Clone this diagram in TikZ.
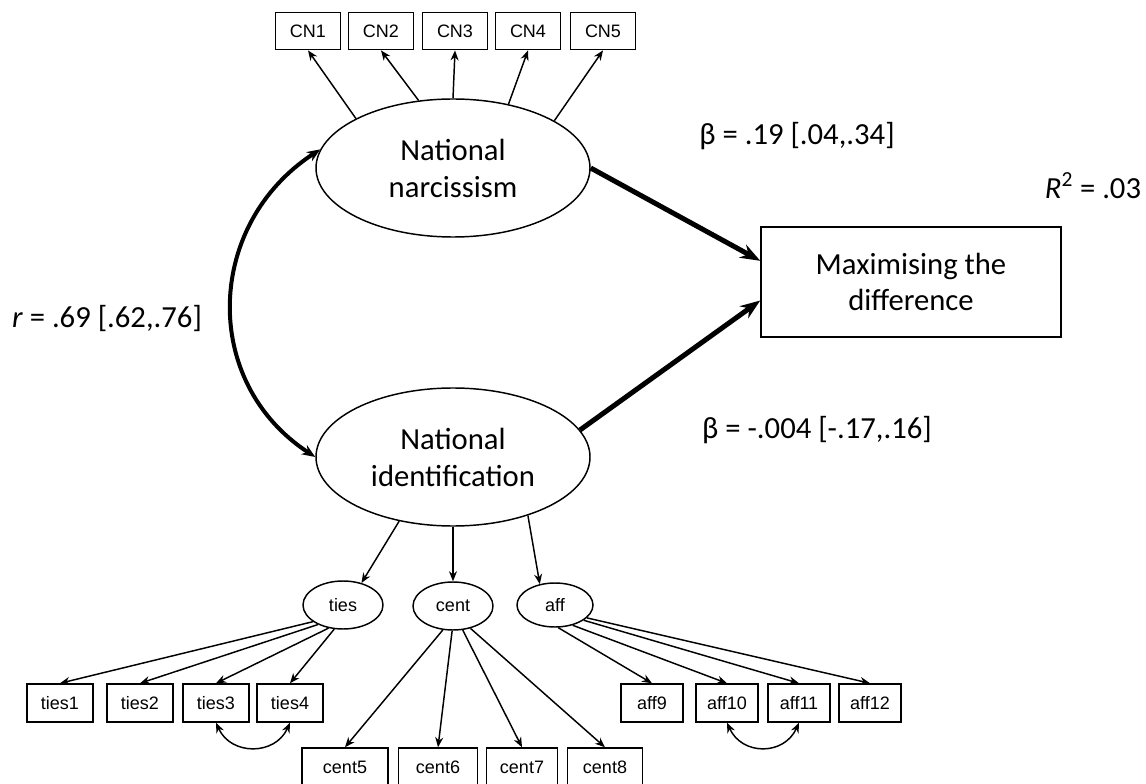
\documentclass[tikz,border=0pt]{standalone}
\usepackage{fontspec}
\setmainfont{Carlito}
\newfontfamily\itemfont{Liberation Sans}
\usepackage{tikz}
\usetikzlibrary{positioning,arrows.meta,shapes.geometric}

\begin{document}
\begin{tikzpicture}[
    x=0.75pt, y=-0.75pt,
    latent/.style={ellipse, draw, line width=1.1pt, inner sep=0pt,
        minimum width=205.5pt, minimum height=103.5pt, align=center,
        font=\fontsize{23}{27.75}\selectfont},
    facet/.style={ellipse, draw, line width=1.1pt, inner sep=0pt,
        minimum width=60pt, minimum height=36pt, font=\itemfont\fontsize{13.5}{15}\selectfont},
    item/.style={rectangle, draw, line width=1.1pt, inner sep=0pt,
        minimum width=48.75pt, minimum height=28pt, font=\itemfont\fontsize{13.5}{15}\selectfont},
    outcome/.style={rectangle, draw, line width=1.1pt, inner sep=0pt,
        minimum width=225pt, minimum height=82.5pt, align=center,
        font=\fontsize{23}{27}\selectfont},
    stat/.style={font=\fontsize{23}{27}\selectfont, inner sep=0pt},
    loading/.style={-{Stealth[length=7.5pt,width=6pt]}, line width=1.1pt},
    effect/.style={-{Stealth[length=15pt,width=11pt]}, line width=3.75pt},
    corr/.style={{Stealth[length=10pt,width=8pt]}-{Stealth[length=10pt,width=8pt]}, line width=3pt},
    cov/.style={{Stealth[length=7.5pt,width=6pt]}-{Stealth[length=7.5pt,width=6pt]}, line width=1.1pt},
]
\useasboundingbox (0,0) rectangle (1146,784);

% latent factors and outcome
\node[latent] (nn) at (453,168) {National\\narcissism};
\node[latent] (ni) at (453,457) {National\\identification};
\node[outcome] (md) at (911,282) {Maximising the\\difference};

% narcissism items
\foreach \i/\x in {1/308,2/381,3/455,4/528,5/603}
  \node[item] (cn\i) at (\x,31) {CN\i};
\foreach \i/\a in {1/153,2/117,3/90,4/49,5/25}
  \draw[loading] (nn.\a) -- (cn\i.south);

% identification facets
\node[facet] (ties) at (343,605) {ties};
\node[facet] (cent) at (453,606) {cent};
\node[facet, minimum width=57pt, minimum height=33pt] (aff) at (555,605) {aff};
\draw[loading] (ni.230) -- (ties.50);
\draw[loading] (ni.270) -- (cent.north);
\draw[loading] (ni.322) -- (aff.126);

% facet items
\foreach \i/\x in {1/60,2/140,3/216,4/290}
  \node[item, minimum width=49.5pt, minimum height=28.5pt] (ties\i) at (\x,703) {ties\i};
\foreach \i/\x/\w in {5/345/64.5,6/438/59.25,7/522/53.25,8/605/56.25}
  \node[item, minimum width=\w pt, minimum height=28.5pt] (cent\i) at (\x,767) {cent\i};
\foreach \i/\x in {9/652,10/727,11/799,12/870}
  \node[item, minimum width=46.5pt, minimum height=28.5pt] (aff\i) at (\x,703) {aff\i};

\foreach \i/\a in {1/209,2/218,3/238,4/250}
  \draw[loading] (ties.\a) -- (ties\i.north);
\foreach \i/\a in {5/247,6/268,7/292,8/308}
  \draw[loading] (cent.\a) -- (cent\i.north);
\foreach \i/\a in {9/278,10/311,11/332,12/338}
  \draw[loading] (aff.\a) -- (aff\i.north);

\draw[cov] (ties3.south) .. controls +(15,33) and +(-15,33) .. (ties4.south);
\draw[cov] (aff10.south) .. controls +(15,33) and +(-15,33) .. (aff11.south);

% structural paths
\draw[effect] (nn.east) -- (md.172);
\draw[effect] (ni.12) -- (md.187);
\draw[corr] (nn.172) .. controls +(-115,75) and +(-115,-75) .. (ni.west);

% estimates
\node[stat] (b1) at (797,136) {β = .19 [.04,.34]};
\node[stat] (b2) at (817,430) {β = -.004 [-.17,.16]};
\node[stat] (r2) at (1093,186) {\textit{R}\textsuperscript{2} = .03};
\node[stat] (rr) at (107,319) {\textit{r} = .69 [.62,.76]};
\end{tikzpicture}
\end{document}
